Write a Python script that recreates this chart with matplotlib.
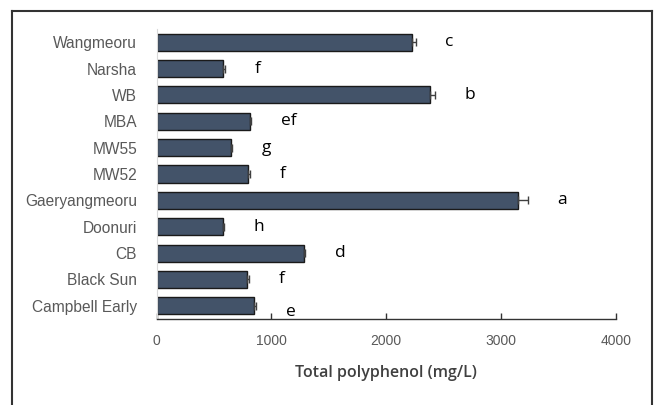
#!/usr/bin/env python3

"""
Total polyphenol content per grape cultivar, horizontal bars with
error bars and significance letters.
"""

import matplotlib
matplotlib.use("Agg")
import matplotlib.pyplot as plt
from matplotlib.lines import Line2D

cultivars = ["Wangmeoru", "Narsha", "WB", "MBA", "MW55", "MW52",
             "Gaeryangmeoru", "Doonuri", "CB", "Black Sun", "Campbell Early"]
polyphenol = [2220, 580, 2380, 810, 645, 800, 3150, 580, 1285, 790, 850]
errors = [35, 15, 45, 10, 15, 15, 80, 5, 5, 15, 20]
letters = ["c", "f", "b", "ef", "g", "f", "a", "h", "d", "f", "e"]
xticks = [0, 1000, 2000, 3000, 4000]

W, H, DPI = 657, 405, 100
fig = plt.figure(figsize=(W / DPI, H / DPI), dpi=DPI)
ax = fig.add_axes([156.5 / W, 1 - 319 / H, (616 - 156.5) / W, (319 - 29) / H])

ypos = list(range(len(cultivars)))[::-1]
ax.barh(ypos, polyphenol, height=0.65, color="#435369",
        edgecolor="#1a1a1a", linewidth=1.0, zorder=2)
ax.errorbar(polyphenol, ypos, xerr=[[0] * len(errors), errors], fmt="none",
            ecolor="#404040", elinewidth=1.0, capsize=3, capthick=1.0,
            zorder=3)

for y, v, e, lab in zip(ypos, polyphenol, errors, letters):
    dy = -0.25 if lab == "e" else 0
    ax.text(v + e + 260, y + dy, lab, fontsize=12.5, family="Open Sans",
            color="black", va="center", ha="left")

ax.set_xlim(0, 4000)
ax.set_ylim(-0.5, len(cultivars) - 0.5)
ax.set_xticks(xticks)
ax.set_xticklabels([str(t) for t in xticks], family="Liberation Sans",
                   fontsize=10, color="#595959")
ax.set_yticks(ypos)
ax.set_yticklabels(cultivars, family="Liberation Sans", fontsize=11.2,
                   color="#595959")
ax.tick_params(axis="y", length=0, pad=14)
ax.tick_params(axis="x", direction="in", length=4, width=1.0,
               color="#333333", pad=11)
for s in ("top", "right"):
    ax.spines[s].set_visible(False)
ax.spines["left"].set_color("#d9d9d9")
ax.spines["bottom"].set_color("#333333")
ax.spines["bottom"].set_linewidth(1.0)

ax.set_xlabel("Total polyphenol (mg/L)", family="Open Sans",
              fontweight="semibold", fontsize=11.5, color="#404040",
              labelpad=12)

# outer frame (bottom edge runs off the image)
fx0, fx1, fy1 = 12 / W, 652 / W, 1 - 11 / H
for xs, ys in [([fx0, fx0], [0, fy1]), ([fx0, fx1], [fy1, fy1]),
               ([fx1, fx1], [fy1, 0])]:
    fig.add_artist(Line2D(xs, ys, color="#333333", linewidth=1.5,
                          transform=fig.transFigure))

fig.savefig("out.png", dpi=DPI)
